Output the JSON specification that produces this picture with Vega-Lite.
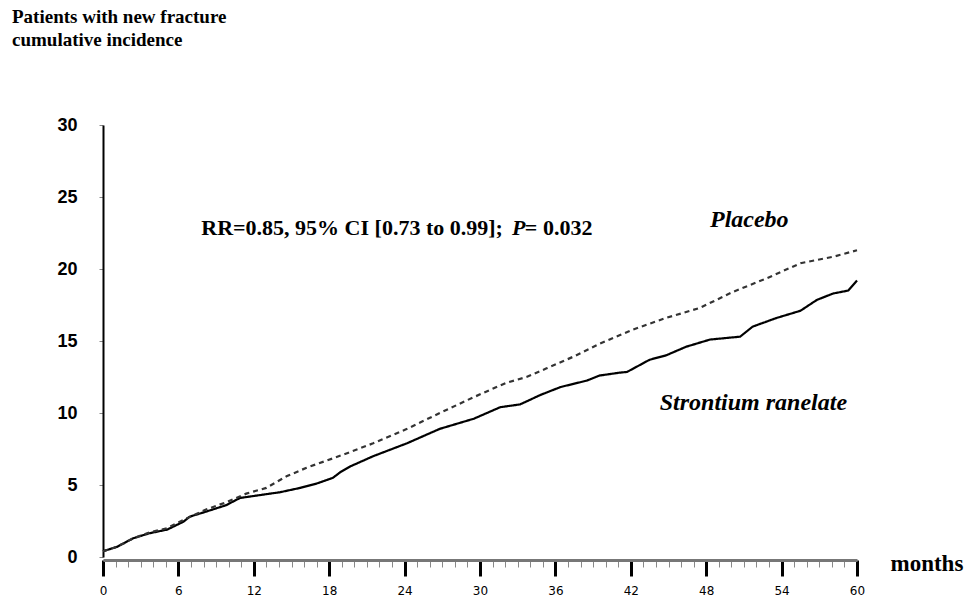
{
  "$schema": "https://vega.github.io/schema/vega-lite/v6.json",
  "width": 754,
  "height": 432,
  "autosize": {"type": "none"},
  "padding": {"left": 103, "top": 125, "right": 112, "bottom": 43},
  "background": "white",
  "config": {"view": {"stroke": null}},
  "title": {
    "text": ["Patients with new fracture", "cumulative incidence"],
    "anchor": "start",
    "frame": "group",
    "dx": -91,
    "offset": 66,
    "font": "Liberation Serif",
    "fontSize": 19,
    "fontWeight": "bold",
    "color": "#000",
    "lineHeight": 23
  },
  "datasets": {
    "curves": [
      {"series": "Strontium ranelate", "month": 0, "value": 0.4},
      {"series": "Strontium ranelate", "month": 1.1, "value": 0.7},
      {"series": "Strontium ranelate", "month": 2.4, "value": 1.3},
      {"series": "Strontium ranelate", "month": 3.7, "value": 1.65},
      {"series": "Strontium ranelate", "month": 5.1, "value": 1.9},
      {"series": "Strontium ranelate", "month": 6.4, "value": 2.45},
      {"series": "Strontium ranelate", "month": 6.9, "value": 2.8},
      {"series": "Strontium ranelate", "month": 8.2, "value": 3.15},
      {"series": "Strontium ranelate", "month": 9.8, "value": 3.6},
      {"series": "Strontium ranelate", "month": 10.9, "value": 4.1},
      {"series": "Strontium ranelate", "month": 12.5, "value": 4.3},
      {"series": "Strontium ranelate", "month": 14.1, "value": 4.5},
      {"series": "Strontium ranelate", "month": 15.7, "value": 4.8},
      {"series": "Strontium ranelate", "month": 17.0, "value": 5.1},
      {"series": "Strontium ranelate", "month": 18.3, "value": 5.5},
      {"series": "Strontium ranelate", "month": 18.9, "value": 5.9},
      {"series": "Strontium ranelate", "month": 19.7, "value": 6.3},
      {"series": "Strontium ranelate", "month": 21.5, "value": 7.0},
      {"series": "Strontium ranelate", "month": 24.2, "value": 7.9},
      {"series": "Strontium ranelate", "month": 26.8, "value": 8.9},
      {"series": "Strontium ranelate", "month": 29.5, "value": 9.6},
      {"series": "Strontium ranelate", "month": 31.6, "value": 10.4},
      {"series": "Strontium ranelate", "month": 33.2, "value": 10.6},
      {"series": "Strontium ranelate", "month": 34.8, "value": 11.25},
      {"series": "Strontium ranelate", "month": 36.4, "value": 11.8},
      {"series": "Strontium ranelate", "month": 38.5, "value": 12.25},
      {"series": "Strontium ranelate", "month": 39.5, "value": 12.6},
      {"series": "Strontium ranelate", "month": 41.1, "value": 12.8},
      {"series": "Strontium ranelate", "month": 41.7, "value": 12.85},
      {"series": "Strontium ranelate", "month": 43.5, "value": 13.7},
      {"series": "Strontium ranelate", "month": 44.8, "value": 14.0},
      {"series": "Strontium ranelate", "month": 46.4, "value": 14.6},
      {"series": "Strontium ranelate", "month": 48.3, "value": 15.1},
      {"series": "Strontium ranelate", "month": 50.7, "value": 15.3},
      {"series": "Strontium ranelate", "month": 51.7, "value": 16.0},
      {"series": "Strontium ranelate", "month": 53.6, "value": 16.6},
      {"series": "Strontium ranelate", "month": 55.5, "value": 17.1},
      {"series": "Strontium ranelate", "month": 56.8, "value": 17.85},
      {"series": "Strontium ranelate", "month": 58.1, "value": 18.3},
      {"series": "Strontium ranelate", "month": 59.3, "value": 18.5},
      {"series": "Strontium ranelate", "month": 60, "value": 19.2},
      {"series": "Placebo", "month": 0, "value": 0.4},
      {"series": "Placebo", "month": 1.1, "value": 0.7},
      {"series": "Placebo", "month": 2.4, "value": 1.3},
      {"series": "Placebo", "month": 3.7, "value": 1.7},
      {"series": "Placebo", "month": 5.1, "value": 2.0},
      {"series": "Placebo", "month": 6.7, "value": 2.7},
      {"series": "Placebo", "month": 8.2, "value": 3.3},
      {"series": "Placebo", "month": 9.8, "value": 3.8},
      {"series": "Placebo", "month": 11.4, "value": 4.4},
      {"series": "Placebo", "month": 13.0, "value": 4.8},
      {"series": "Placebo", "month": 14.6, "value": 5.6},
      {"series": "Placebo", "month": 16.2, "value": 6.2},
      {"series": "Placebo", "month": 18.3, "value": 6.85},
      {"series": "Placebo", "month": 19.7, "value": 7.3},
      {"series": "Placebo", "month": 21.5, "value": 7.9},
      {"series": "Placebo", "month": 24.2, "value": 8.9},
      {"series": "Placebo", "month": 26.8, "value": 10.0},
      {"series": "Placebo", "month": 29.5, "value": 11.1},
      {"series": "Placebo", "month": 32.1, "value": 12.1},
      {"series": "Placebo", "month": 33.7, "value": 12.5},
      {"series": "Placebo", "month": 35.3, "value": 13.1},
      {"series": "Placebo", "month": 37.4, "value": 13.9},
      {"series": "Placebo", "month": 39.5, "value": 14.8},
      {"series": "Placebo", "month": 41.1, "value": 15.4},
      {"series": "Placebo", "month": 42.2, "value": 15.8},
      {"series": "Placebo", "month": 44.8, "value": 16.6},
      {"series": "Placebo", "month": 47.5, "value": 17.3},
      {"series": "Placebo", "month": 50.1, "value": 18.4},
      {"series": "Placebo", "month": 52.8, "value": 19.35},
      {"series": "Placebo", "month": 55.5, "value": 20.4},
      {"series": "Placebo", "month": 58.1, "value": 20.85},
      {"series": "Placebo", "month": 60, "value": 21.3}
    ],
    "notes": [
      {"part": "a", "text": "RR=0.85, 95% CI [0.73 to 0.99];", "month": 31.82, "value": 22.85},
      {"part": "p", "text": "P", "month": 32.54, "value": 22.85},
      {"part": "b", "text": "= 0.032", "month": 33.57, "value": 22.85},
      {"part": "label", "text": "Placebo", "month": 48.3, "value": 23.4},
      {"part": "label", "text": "Strontium ranelate", "month": 44.3, "value": 10.7}
    ]
  },
  "encoding": {
    "x": {
      "field": "month",
      "type": "quantitative",
      "scale": {"domain": [0, 60], "nice": false, "zero": true},
      "axis": {
        "values": [0,1,2,3,4,5,6,7,8,9,10,11,12,13,14,15,16,17,18,19,20,21,22,23,24,25,26,27,28,29,30,31,32,33,34,35,36,37,38,39,40,41,42,43,44,45,46,47,48,49,50,51,52,53,54,55,56,57,58,59,60],
        "labelExpr": "datum.value % 6 === 0 ? datum.label : ''",
        "tickSize": {"condition": {"test": "datum.value % 6 === 0", "value": 16}, "value": 7},
        "tickWidth": {"condition": {"test": "datum.value % 6 === 0", "value": 3}, "value": 1},
        "tickColor": {"condition": {"test": "datum.value % 6 === 0", "value": "#000"}, "value": "#888"},
        "labelFont": "DejaVu Sans",
        "labelFontSize": 12,
        "labelColor": "#000",
        "labelPadding": 9,
        "labelFlush": false,
        "labelOverlap": false,
        "domainColor": "#777",
        "domainWidth": 3,
        "offset": 3,
        "grid": false,
        "title": "months",
        "titleFont": "Liberation Serif",
        "titleFontSize": 23,
        "titleFontWeight": "bold",
        "titleColor": "#000",
        "titleAlign": "left",
        "titleBaseline": "middle",
        "titleAnchor": "start",
        "titleX": 787,
        "titleY": 3
      }
    },
    "y": {
      "field": "value",
      "type": "quantitative",
      "scale": {"domain": [0, 30], "nice": false},
      "axis": {
        "values": [0, 5, 10, 15, 20, 25, 30],
        "tickSize": 4,
        "tickColor": "#888",
        "labelFont": "Liberation Sans",
        "labelFontSize": 18,
        "labelFontWeight": "bold",
        "labelColor": "#000",
        "labelPadding": 22,
        "domainColor": "#000",
        "domainWidth": 2,
        "grid": false,
        "title": null
      }
    }
  },
  "layer": [
    {
      "data": {"name": "curves"},
      "mark": {"type": "line", "strokeWidth": 2.2},
      "encoding": {
        "detail": {"field": "series"},
        "color": {
          "field": "series",
          "type": "nominal",
          "scale": {"domain": ["Placebo", "Strontium ranelate"], "range": ["#333", "#000"]},
          "legend": null
        },
        "strokeDash": {
          "field": "series",
          "type": "nominal",
          "scale": {"domain": ["Placebo", "Strontium ranelate"], "range": [[5, 4], [1, 0]]},
          "legend": null
        }
      }
    },
    {
      "data": {"name": "notes"},
      "transform": [{"filter": "datum.part === 'a'"}],
      "mark": {"type": "text", "align": "right", "baseline": "middle", "font": "Liberation Serif", "fontSize": 22, "fontWeight": "bold", "color": "#000"},
      "encoding": {"text": {"field": "text"}}
    },
    {
      "data": {"name": "notes"},
      "transform": [{"filter": "datum.part === 'p'"}],
      "mark": {"type": "text", "align": "left", "baseline": "middle", "font": "Liberation Serif", "fontSize": 22, "fontWeight": "bold", "fontStyle": "italic", "color": "#000"},
      "encoding": {"text": {"field": "text"}}
    },
    {
      "data": {"name": "notes"},
      "transform": [{"filter": "datum.part === 'b'"}],
      "mark": {"type": "text", "align": "left", "baseline": "middle", "font": "Liberation Serif", "fontSize": 22, "fontWeight": "bold", "color": "#000"},
      "encoding": {"text": {"field": "text"}}
    },
    {
      "data": {"name": "notes"},
      "transform": [{"filter": "datum.part === 'label'"}],
      "mark": {"type": "text", "align": "left", "baseline": "middle", "font": "Liberation Serif", "fontSize": 24, "fontWeight": "bold", "fontStyle": "italic", "color": "#000"},
      "encoding": {"text": {"field": "text"}}
    }
  ]
}
